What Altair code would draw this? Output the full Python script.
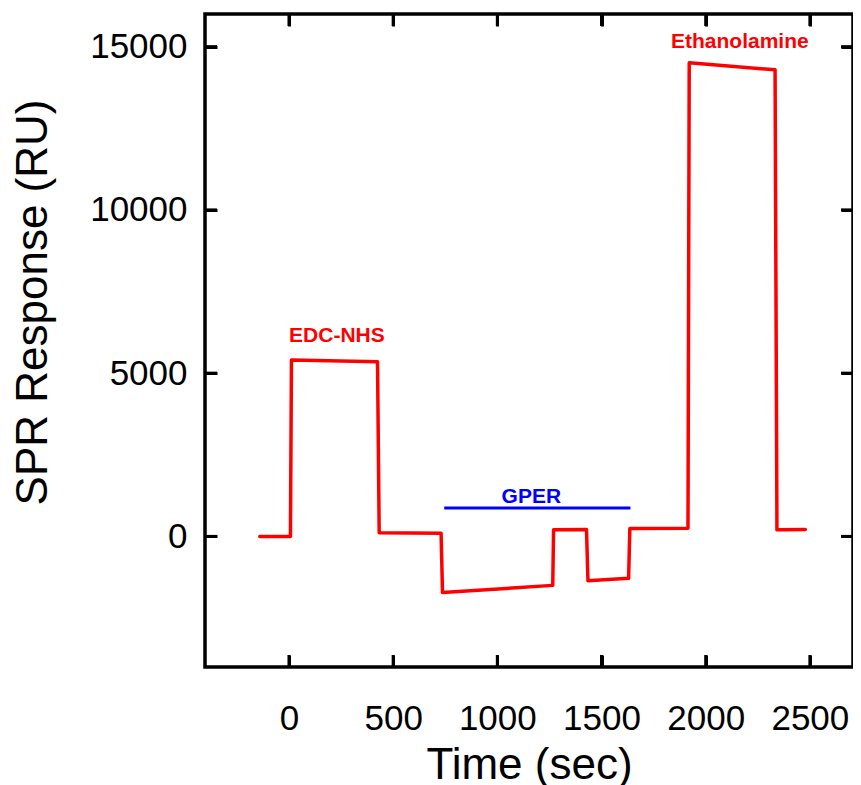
import altair as alt
import pandas as pd

# ---- data ----
time_s = [-140, 7, 12, 425, 433, 730, 737, 1266, 1270, 1428, 1435, 1630, 1636, 1915, 1921, 2333, 2342, 2478]
response_ru = [0, 0, 5400, 5350, 110, 100, -1720, -1500, 200, 215, -1360, -1285, 245, 250, 14510, 14290, 200, 215]

x_ticks = [0, 500, 1000, 1500, 2000, 2500]
y_ticks = [0, 5000, 10000, 15000]

label_text = ["EDC-NHS", "GPER", "Ethanolamine"]
label_t = [230, 1163, 2164]
label_y = [5954, 1023, 14958]
label_color = ["#ff0000", "#0000ff", "#ff0000"]

gper_start = [745]
gper_end = [1639]
gper_level = [870]

X_MIN, X_MAX = -403, 2707
Y_MIN, Y_MAX = -4000, 16000

W, H = 648, 653
FONT = "Arial"
TL = 12  # inward tick length (px)
DX = (X_MAX - X_MIN) / W * TL
DY = (Y_MAX - Y_MIN) / H * TL

trace = pd.DataFrame({"t": time_s, "r": response_ru, "i": list(range(len(time_s)))})
labels = pd.DataFrame({"t": label_t, "r": label_y, "txt": label_text, "c": label_color})
gper = pd.DataFrame({"t0": gper_start, "t1": gper_end, "r": gper_level})
frame = pd.DataFrame({"x0": [X_MIN], "x1": [X_MAX], "y0": [Y_MIN], "y1": [Y_MAX]})

tick_rows = []
for v in x_ticks:
    tick_rows.append({"a": v, "a2": v, "b": Y_MIN, "b2": Y_MIN + DY})
    tick_rows.append({"a": v, "a2": v, "b": Y_MAX - DY, "b2": Y_MAX})
for v in y_ticks:
    tick_rows.append({"a": X_MIN, "a2": X_MIN + DX, "b": v, "b2": v})
    tick_rows.append({"a": X_MAX - DX, "a2": X_MAX, "b": v, "b2": v})
ticks_df = pd.DataFrame(tick_rows)

xs = alt.Scale(domain=[X_MIN, X_MAX], nice=False, zero=False)
ys = alt.Scale(domain=[Y_MIN, Y_MAX], nice=False, zero=False)

tick_style = dict(ticks=True, tickSize=TL, tickWidth=3, tickColor="black", offset=-TL,
                  grid=False, domain=False)

x_axis = alt.Axis(orient="bottom", values=x_ticks, title="Time (sec)", labelFontSize=35, labelFont=FONT,
                  labelColor="black", labelPadding=34, titleFontSize=44, titleFont=FONT,
                  titleFontWeight="normal", titleColor="black", titlePadding=7, format="d",
                  labelFlush=False, **tick_style)
y_axis = alt.Axis(orient="left", values=y_ticks, title="SPR Response (RU)", labelFontSize=35, labelFont=FONT,
                  labelColor="black", labelPadding=18, titleFontSize=44, titleFont=FONT,
                  titleFontWeight="normal", titleColor="black", titleX=-162, titleY=288,
                  titleBaseline="bottom", titleAlign="center", titleAngle=270, format="d",
                  labelFlush=False, **tick_style)
x_axis_top = alt.Axis(orient="top", values=x_ticks, labels=False, title=None, **tick_style)
y_axis_right = alt.Axis(orient="right", values=y_ticks, labels=False, title=None, **tick_style)

box = alt.Chart(frame).mark_rect(filled=False, stroke="black", strokeWidth=3.5).encode(
    x=alt.X("x0:Q", scale=xs, axis=None),
    x2="x1:Q",
    y=alt.Y("y0:Q", scale=ys, axis=None),
    y2="y1:Q",
)

inner_ticks = alt.Chart(ticks_df).mark_rule(color="black", strokeWidth=3).encode(
    x=alt.X("a:Q", scale=xs, axis=None),
    x2="a2:Q",
    y=alt.Y("b:Q", scale=ys, axis=None),
    y2="b2:Q",
)

line = alt.Chart(trace).mark_line(color="#ff0000", strokeWidth=3.5, strokeJoin="round", strokeCap="round").encode(
    x=alt.X("t:Q", scale=xs, axis=x_axis),
    y=alt.Y("r:Q", scale=ys, axis=y_axis),
    order="i:Q",
)

gper_bar = alt.Chart(gper).mark_rule(color="#0000ff", strokeWidth=3).encode(
    x=alt.X("t0:Q", scale=xs, axis=x_axis_top),
    x2="t1:Q",
    y=alt.Y("r:Q", scale=ys, axis=y_axis_right),
)

text = alt.Chart(labels).mark_text(fontSize=21, fontWeight="bold", font=FONT, baseline="alphabetic",
                                   align="center").encode(
    x=alt.X("t:Q", scale=xs, axis=None),
    y=alt.Y("r:Q", scale=ys, axis=None),
    text="txt:N",
    color=alt.Color("c:N", scale=None),
)

chart = alt.layer(box, line, gper_bar, text, inner_ticks).resolve_axis(x="independent", y="independent").properties(
    width=W, height=H,
    autosize=alt.AutoSizeParams(type="none"),
    padding={"left": 197, "top": 6, "right": 0, "bottom": 118},
).configure(background="white")

chart.save("out.html", embed_options={"renderer": "svg", "actions": False})
